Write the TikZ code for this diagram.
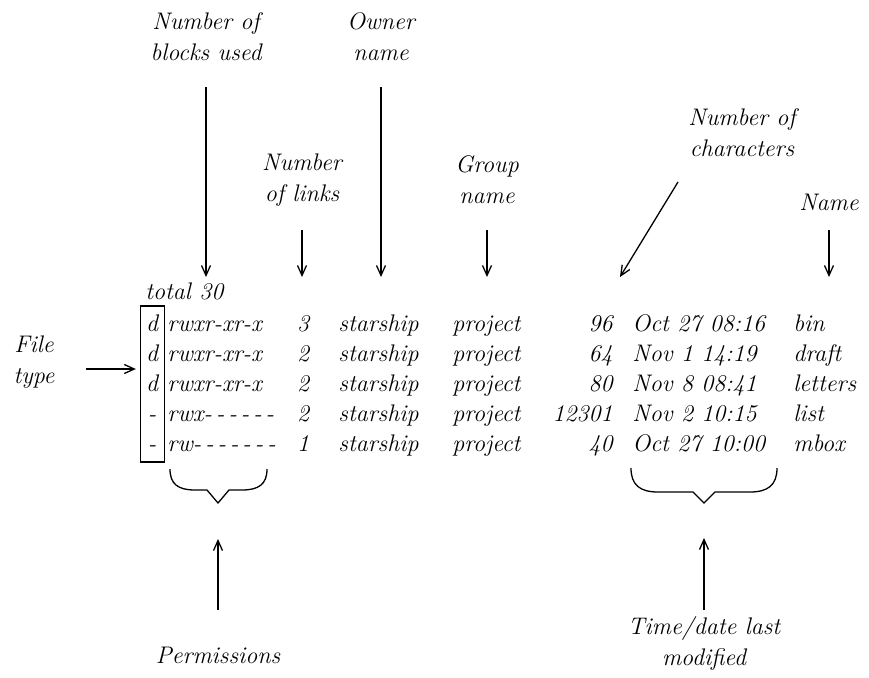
\documentclass[tikz,border=0pt]{standalone}
\usepackage{tikz}
\usetikzlibrary{arrows.meta}

\newcommand{\hy}{-\kern2pt}

\begin{document}
\begin{tikzpicture}[
            x=0.5pt, y=-0.5pt,
            >={Straight Barb[length=5pt,width=4.5pt]},
            arr/.style={->,line width=0.65pt},
            lbl/.style={font=\itshape\fontsize{12}{15.5}\selectfont,align=center,inner sep=0pt},
            cell/.style={font=\itshape\fontsize{12}{15}\selectfont,inner sep=0pt,anchor=base west}
        ]
        \useasboundingbox (0,0) rectangle (869,677);

        % Column labels
        \node[lbl] (blocks) at (206,37) {Number of\\blocks used};
        \node[lbl] (owner) at (381,37) {Owner\\name};
        \node[lbl] (links) at (302,180) {Number\\of links};
        \node[lbl] (group) at (487,180) {Group\\name};
        \node[lbl] (chars) at (742,133) {Number of\\characters};
        \node[lbl] (fname) at (829,202) {Name};
        \node[lbl] (filetype) at (34,362) {File\\type};
        \node[lbl] (perms) at (218,655) {Permissions};
        \node[lbl] (timedate) at (704,643) {Time/date last\\modified};

        % Listing
        \node[cell] (total) at (145,299) {total 30};
        \node[draw,line width=0.65pt,minimum width=12pt,minimum height=78pt,inner sep=0pt] (typebox) at (152.5,384) {};
        \foreach \t/\p/\l/\s/\d/\n [count=\i, evaluate=\i as \y using 301+30*\i] in {
            d/rwxr-xr-x/3/96/Oct 27 08:16/bin,
            d/rwxr-xr-x/2/64/Nov 1 14:19/draft,
            d/rwxr-xr-x/2/80/Nov 8 08:41/letters,
            -/rwx\hy\hy\hy\hy\hy-/2/12301/Nov 2 10:15/list,
            -/rw\hy\hy\hy\hy\hy\hy-/1/40/Oct 27 10:00/mbox}{
            \node[cell,anchor=base] (typ\i) at (152,\y) {\t};
            \node[cell] (perm\i) at (167,\y) {\p};
            \node[cell,anchor=base] (link\i) at (303,\y) {\l};
            \node[cell] (own\i) at (338,\y) {starship};
            \node[cell] (grp\i) at (452,\y) {project};
            \node[cell,anchor=base east] (size\i) at (613,\y) {\s};
            \node[cell] (date\i) at (632,\y) {\d};
            \node[cell] (file\i) at (793,\y) {\n};
        }

        % Arrows down to the listing
        \coordinate (toprow) at (0,277);
        \draw[arr] (blocks |- 0,87) -- (blocks |- toprow);
        \draw[arr] (owner |- 0,87) -- (owner |- toprow);
        \draw[arr] (links |- 0,230) -- (links |- toprow);
        \draw[arr] (group |- 0,230) -- (group |- toprow);
        \draw[arr] (fname |- 0,230) -- (fname |- toprow);
        \coordinate (charsTail) at (678,182);
        \coordinate (charsTip) at (620,277);
        \draw[arr] (charsTail) -- (charsTip);

        % File type arrow
        \coordinate (fileTip) at (137,369);
        \draw[arr,shorten <=15.5pt,shorten >=2pt] (filetype.east |- fileTip) -- (typebox.west |- fileTip);

        % Braces
        \draw[line width=0.65pt] (170,469) .. controls (170,484) and (178,490) .. (195,490) -- (207,490) -- (218,503)
            -- (229,490) -- (242,490) .. controls (259,490) and (267,484) .. (267,469);
        \draw[line width=0.65pt] (631,468) .. controls (631,485) and (640,492) .. (658,492) -- (693,492) -- (704,503)
            -- (715,492) -- (750,492) .. controls (768,492) and (777,485) .. (777,468);

        % Arrows up to the braces
        \draw[arr] (perms |- 0,610) -- (perms |- 0,539);
        \draw[arr] (timedate |- 0,610) -- (timedate |- 0,538);

        \end{tikzpicture}
\end{document}
